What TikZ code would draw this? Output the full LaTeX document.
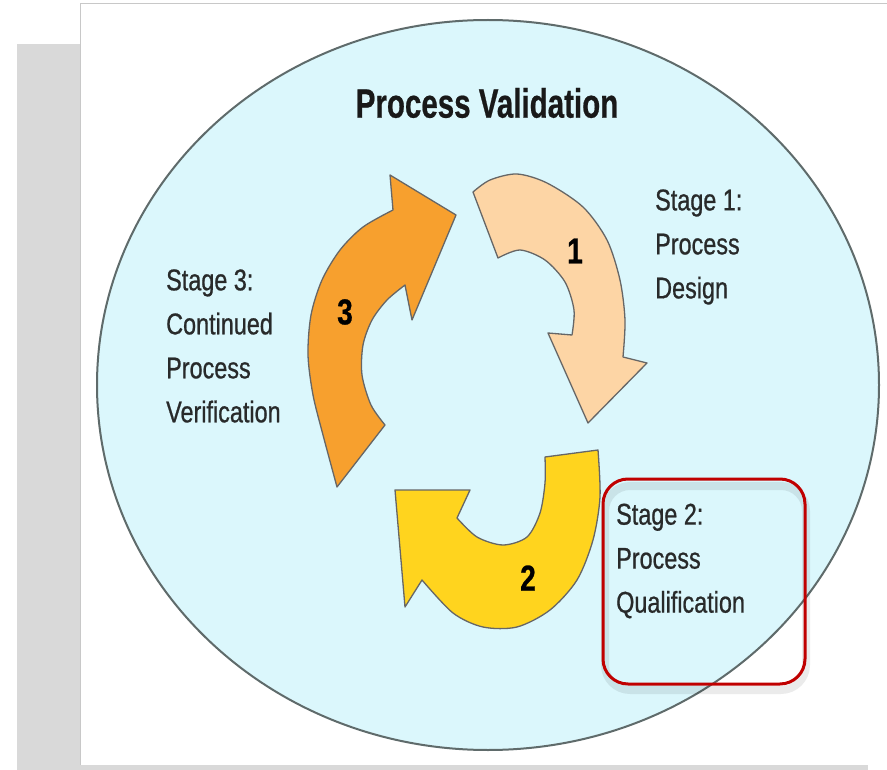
\documentclass[tikz,border=0pt]{standalone}
\usepackage{fontspec}
\setmainfont{Liberation Sans}[FakeStretch=0.78, FakeBold=0.7]
\newfontfamily\headfont{Liberation Sans}[FakeStretch=0.72, FakeBold=0.5]
\definecolor{panelgrey}{RGB}{217,217,217}
\definecolor{rimgrey}{RGB}{200,200,200}
\definecolor{poolblue}{RGB}{219,247,252}
\definecolor{poolrim}{RGB}{95,107,107}
\definecolor{peach}{RGB}{253,213,165}
\definecolor{amber}{RGB}{247,160,46}
\definecolor{sun}{RGB}{255,212,30}
\definecolor{boxred}{RGB}{192,0,0}
\definecolor{inkgrey}{RGB}{40,42,42}
\begin{document}
\begin{tikzpicture}[x=1pt, y=-1pt,
  stagearrow/.style={draw=black!60, line width=1.3pt, line join=round},
  stagelabel/.style={anchor=west, align=left, inner sep=0pt, text=inkgrey,
    font=\fontsize{30}{44}\selectfont},
  stagenum/.style={inner sep=0pt, font=\fontsize{36}{36}\selectfont\bfseries}]
\useasboundingbox (0,0) rectangle (887,770);

\fill[panelgrey] (17,44) rectangle (868,770);
\fill[white] (80,4) rectangle (887,765);
\draw[rimgrey, line width=1pt] (887,4) -- (80,4) -- (80,765);

\filldraw[fill=poolblue, draw=poolrim, line width=2pt] (488,385) ellipse [x radius=391, y radius=365];

\node[font=\fontsize{41}{41}\selectfont\headfont\bfseries, text=black!90] (title) at (487,103) {Process Validation};

% stage 1
\filldraw[stagearrow, fill=peach] (473,192)
  -- plot[smooth] coordinates {(473,192) (490,180) (517,174) (547,183) (583,207) (607,240) (620,280) (625,320) (623,357)}
  -- (647,363) -- (588,423) -- (548,333)
  -- plot[smooth] coordinates {(572,335) (574,310) (565,282) (545,260) (520,250) (498,258)}
  -- cycle;
% stage 2
\filldraw[stagearrow, fill=sun] (598,450)
  -- plot[smooth] coordinates {(598,450) (600,497) (593,540) (577,580) (550,610) (517,627) (483,627) (453,613) (422,580)}
  -- (405,607) -- (395,490) -- (470,490)
  -- plot[smooth] coordinates {(457,518) (477,537) (503,545) (527,537) (540,513) (545,483) (545,457)}
  -- cycle;
% stage 3
\filldraw[stagearrow, fill=amber] (337,487)
  -- plot[smooth] coordinates {(385,425) (371,405) (362,375) (363,345) (372,320) (387,300) (405,285)}
  -- (412,320) -- (456,215) -- (390,175)
  -- plot[smooth] coordinates {(393,210) (363,227) (340,250) (322,280) (311,315) (308,355) (313,395) (323,435) (337,487)}
  -- cycle;

\node[stagenum] (n1) at (575,251) {1};
\node[stagenum] (n2) at (528,578) {2};
\node[stagenum] (n3) at (345,312) {3};

\node[stagelabel] (design) at (655,247) {Stage 1:\\Process\\Design};
\node[stagelabel] (qualif) at (616,561) {Stage 2:\\Process\\Qualification};
\node[stagelabel] (verif) at (166,346) {Stage 3:\\Continued\\Process\\Verification};

\draw[black, opacity=.08, line width=8pt, rounded corners=25pt] (605,486) rectangle (806,690);
\draw[boxred, line width=3pt, rounded corners=25pt] (603,479) rectangle (805,684);
\end{tikzpicture}
\end{document}
